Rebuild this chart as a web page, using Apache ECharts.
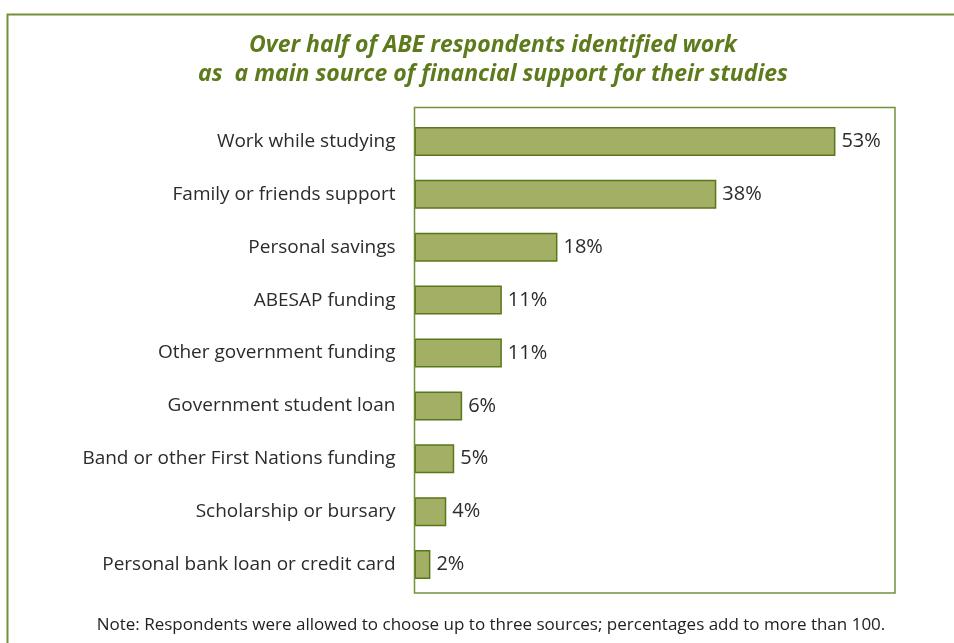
<!DOCTYPE html>
<html>
<head>
<meta charset="utf-8">
<script src="https://cdn.jsdelivr.net/npm/echarts@6/dist/echarts.min.js"></script>
<style>
  html, body { margin: 0; padding: 0; background: #ffffff; }
  #chart { width: 954px; height: 643px; }
</style>
</head>
<body>
<div id="chart"></div>
<script>
// Sources of financial support, top to bottom
const categories = [
  'Work while studying',
  'Family or friends support',
  'Personal savings',
  'ABESAP funding',
  'Other government funding',
  'Government student loan',
  'Band or other First Nations funding',
  'Scholarship or bursary',
  'Personal bank loan or credit card'
];
// Share of respondents (%)
const shares = [53, 38, 18, 11, 11, 6, 5, 4, 2];

const titleLines = [
  'Over half of ABE respondents identified work',
  'as  a main source of financial support for their studies'
];
const noteText = 'Note: Respondents were allowed to choose up to three sources; percentages add to more than 100.';

const olive = '#5d7a1c';
const frameColor = '#76903a';
const labelFont = '"Open Sans", "DejaVu Sans", sans-serif';

const chart = echarts.init(document.getElementById('chart'), null, { renderer: 'canvas' });

chart.setOption({
  backgroundColor: '#ffffff',
  animation: false,
  title: {
    text: titleLines.join('\n'),
    left: 488,
    top: 26,
    textAlign: 'center',
    textStyle: {
      color: olive,
      fontFamily: labelFont,
      fontStyle: 'italic',
      fontWeight: 'bold',
      fontSize: 23,
      lineHeight: 29
    }
  },
  graphic: [
    // outer frame (runs off the right and bottom edges)
    {
      type: 'rect',
      shape: { x: 7.5, y: 14.5, width: 1000, height: 700 },
      style: { fill: null, stroke: frameColor, lineWidth: 2 },
      silent: true
    },
    // plot box
    {
      type: 'rect',
      shape: { x: 414.5, y: 107.5, width: 480.5, height: 485.5 },
      style: { fill: null, stroke: frameColor, lineWidth: 1.5 },
      silent: true,
      z: 10
    },
    // footnote
    {
      type: 'text',
      x: 491,
      y: 617,
      style: {
        text: noteText,
        fill: '#222222',
        font: '17px ' + labelFont,
        textAlign: 'center'
      }
    }
  ],
  grid: {
    left: 414.5,
    width: 480.5,
    top: 115,
    height: 476,
    containLabel: false
  },
  xAxis: {
    type: 'value',
    min: 0,
    max: 60.5,
    show: false
  },
  yAxis: {
    type: 'category',
    data: categories,
    inverse: true,
    axisLine: { show: false },
    axisTick: { show: false },
    splitLine: { show: false },
    axisLabel: {
      margin: 19,
      color: '#2b2b2b',
      fontFamily: labelFont,
      fontSize: 19
    }
  },
  series: [{
    type: 'bar',
    data: shares,
    barWidth: 29,
    itemStyle: {
      color: '#a3af64',
      borderColor: '#5a761a',
      borderWidth: 1.5
    },
    label: {
      show: true,
      position: 'right',
      distance: 6,
      formatter: '{c}%',
      color: '#2b2b2b',
      fontFamily: labelFont,
      fontSize: 20
    }
  }]
});
</script>
</body>
</html>
